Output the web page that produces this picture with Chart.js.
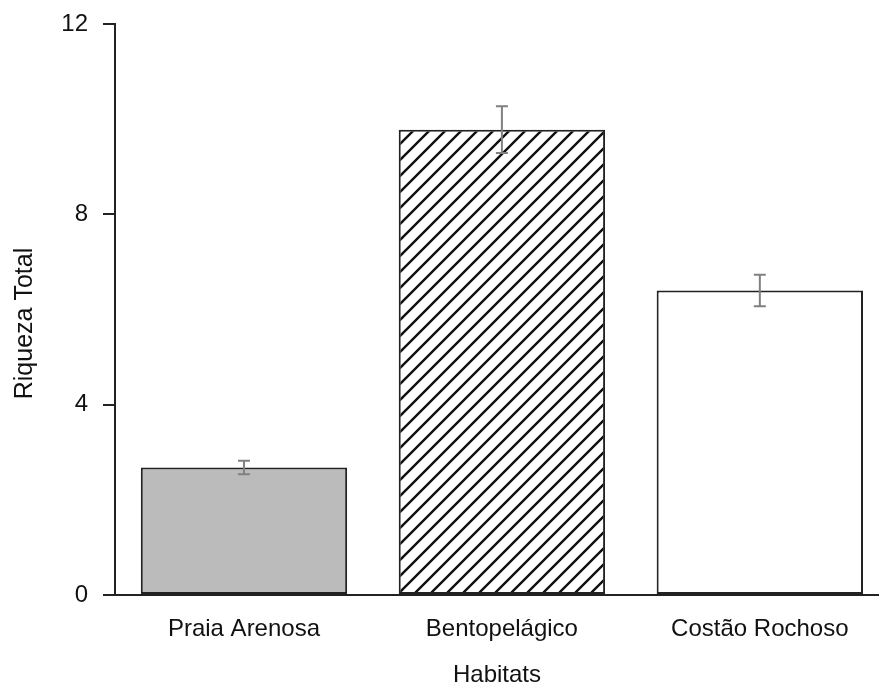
<!DOCTYPE html>
<html>
<head>
<meta charset="utf-8">
<script src="https://cdn.jsdelivr.net/npm/chart.js@4/dist/chart.umd.min.js"></script>
<style>
html,body{margin:0;padding:0;background:#fff;overflow:hidden;}
#wrap{width:879px;height:685px;}
</style>
</head>
<body>
<div id="wrap"><canvas id="c" width="879" height="685"></canvas></div>
<script>
const categories = ["Praia Arenosa", "Bentopelágico", "Costão Rochoso"];
const means = [2.68, 9.78, 6.40];
const errors = [0.14, 0.49, 0.33];
const yTicks = [0, 4, 8, 12];
const yTitle = "Riqueza Total";
const xTitle = "Habitats";

function hatch() {
  const s = 16;
  const c = document.createElement('canvas');
  c.width = s; c.height = s;
  const g = c.getContext('2d');
  g.fillStyle = '#fff';
  g.fillRect(0, 0, s, s);
  g.strokeStyle = '#111';
  g.lineWidth = 2.4;
  g.beginPath();
  g.moveTo(-s/2, s/2); g.lineTo(s/2, -s/2);
  g.moveTo(0, s); g.lineTo(s, 0);
  g.moveTo(s/2, s*1.5); g.lineTo(s*1.5, s/2);
  g.stroke();
  return g.createPattern(c, 'repeat');
}

const ctx = document.getElementById('c').getContext('2d');
const fills = ['#bbbbbb', hatch(), '#ffffff'];

const errPlugin = {
  id: 'errbars',
  afterDatasetsDraw(chart) {
    const g = chart.ctx;
    const xs = chart.scales.x, ys = chart.scales.y;
    g.save();
    g.strokeStyle = '#808080';
    g.lineWidth = 2;
    means.forEach((m, i) => {
      const x = xs.getPixelForValue(i);
      const t = ys.getPixelForValue(m + errors[i]);
      const b = ys.getPixelForValue(m - errors[i]);
      g.beginPath();
      g.moveTo(x, t); g.lineTo(x, b);
      g.moveTo(x - 6, t); g.lineTo(x + 6, t);
      g.moveTo(x - 6, b); g.lineTo(x + 6, b);
      g.stroke();
    });
    g.restore();
  }
};

const yTitlePlugin = {
  id: 'ytitle',
  afterDraw(chart) {
    const g = chart.ctx;
    const ys = chart.scales.y;
    g.save();
    g.translate(32, (ys.top + ys.bottom) / 2 + 14);
    g.rotate(-Math.PI / 2);
    g.fillStyle = '#111';
    g.font = '25px "Liberation Sans", Arial, sans-serif';
    g.textAlign = 'center';
    g.textBaseline = 'alphabetic';
    g.fillText(yTitle, 0, 0);
    g.restore();
  }
};

const font = {family: '"Liberation Sans", Arial, sans-serif', size: 24};

new Chart(ctx, {
  type: 'bar',
  data: {
    datasets: [{
      data: means.map((v, i) => ({x: i, y: v})),
      backgroundColor: fills,
      borderColor: '#222222',
      borderWidth: 2,
      borderSkipped: false,
      categoryPercentage: 1,
      barPercentage: 0.8
    }]
  },
  options: {
    responsive: false,
    animation: false,
    events: [],
    layout: {padding: {top: 24, right: 0, left: 0, bottom: 0}},
    plugins: {legend: {display: false}, tooltip: {enabled: false}},
    scales: {
      x: {
        type: 'linear',
        offset: false,
        min: -0.5,
        max: 2.462,
        afterFit(s) { s.height = 90; s.paddingLeft = 0; s.paddingRight = 0; },
        afterBuildTicks(s) { s.ticks = categories.map((c, i) => ({value: i})); },
        grid: {display: false, drawTicks: false},
        border: {display: true, color: '#222222', width: 2},
        ticks: {
          color: '#111',
          font: font,
          padding: 20,
          maxRotation: 0,
          autoSkip: false,
          callback: (v) => categories[v]
        },
        title: {display: true, text: xTitle, color: '#111', font: Object.assign({}, font, {lineHeight: 1}), padding: {top: 0, bottom: -2}}
      },
      y: {
        min: 0,
        max: 12,
        afterFit(s) { s.width = 115; s.paddingTop = 0; s.paddingBottom = 0; },
        afterBuildTicks(s) { s.ticks = yTicks.map(v => ({value: v})); },
        grid: {drawOnChartArea: false, drawTicks: true, tickLength: 12, color: '#222222', lineWidth: 2},
        border: {display: true, color: '#222222', width: 2},
        ticks: {color: '#111', font: font, padding: 15},
        title: {display: false}
      }
    }
  },
  plugins: [errPlugin, yTitlePlugin]
});
</script>
</body>
</html>
